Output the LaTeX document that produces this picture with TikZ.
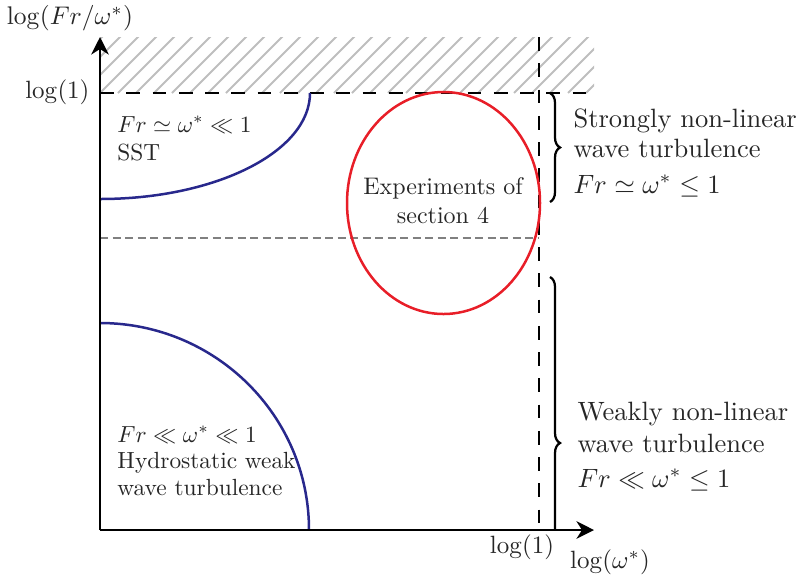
\documentclass[tikz,border=0pt]{standalone}
\usetikzlibrary{arrows.meta,decorations.pathreplacing}
\definecolor{curveblue}{RGB}{40,40,140}
\definecolor{expred}{RGB}{232,30,40}
\definecolor{hatchgray}{RGB}{190,190,190}
\begin{document}
\begin{tikzpicture}[x=0.4pt,y=0.4pt,
  axisline/.style={line width=1.1pt,-{Stealth[length=7pt,width=7pt,inset=2.2pt]}},
  guide/.style={line width=0.8pt,dash pattern=on 5.5pt off 5pt},
  lightguide/.style={line width=0.6pt,gray,dash pattern=on 3.2pt off 1.8pt},
  regioncurve/.style={line width=1pt,curveblue},
  bracestyle/.style={line width=0.9pt,decorate,decoration={brace,amplitude=4pt}},
  lbl/.style={inner sep=0pt,text=black!85},
  smalltxt/.style={lbl,scale=0.935},
  smallmath/.style={lbl,scale=0.93},
  bigtxt/.style={lbl,scale=1.06}]
\useasboundingbox (0,0) rectangle (797,-582);
% named points
\coordinate (O) at (100,-530);
\coordinate (Xend) at (594,-530);
\coordinate (Yend) at (100,-37);
\coordinate (Ytop1) at (100,-93);
\coordinate (Xtop1) at (594,-93);
\coordinate (Vtop) at (539,-37);
\coordinate (Vbot) at (539,-530);
\coordinate (Gl) at (100,-238);
\coordinate (Gr) at (539,-238);
% hatched region
\begin{scope}
  \clip (100,-37) rectangle (594,-93);
  \foreach \i in {-4,...,30}
    \draw[hatchgray,line width=0.8pt] (100+\i*18,-93) -- ++(60,60);
\end{scope}
% guide lines
\draw[guide] (Ytop1) -- (Xtop1);
\draw[guide] (Vtop) -- (Vbot);
\draw[lightguide] (Gl) -- (Gr);
% curves
\draw[regioncurve] (100,-199) arc[start angle=270,end angle=360,x radius=210,y radius=106];
\draw[regioncurve] (100,-323) arc[start angle=90,end angle=0,x radius=209,y radius=207];
% experiments ellipse
\draw[expred,line width=1pt] (443.5,-203) ellipse [x radius=96.5, y radius=111];
\node[lbl,align=center,scale=0.96] (exp) at (443,-201) {Experiments of\\section 4};
% axes
\draw[axisline] (O) -- (Xend);
\draw[axisline] (O) -- (Yend);
% axis labels
\node[lbl,scale=1.02] (ylab) at (70,-18) {$\log(Fr/\omega^*)$};
\node[lbl,anchor=east] (ylog) at (90,-92) {$\log(1)$};
\node[lbl] (xlog) at (522,-547) {$\log(1)$};
\node[lbl] (xlab) at (610,-562) {$\log(\omega^*)$};
% braces
\draw[bracestyle] (550,-93) -- (550,-202);
\begin{scope}
  \clip (530,-260) rectangle (600,-530);
  \draw[bracestyle] (550,-277) -- (550,-609);
\end{scope}
% region texts
\node[smallmath,anchor=base west] (sst1) at (117,-132) {$Fr\simeq\omega^*\ll 1$};
\node[smalltxt,anchor=base west] (sst2) at (117,-160) {SST};
\node[smallmath,anchor=base west] (hyd1) at (117,-442) {$Fr\ll\omega^*\ll 1$};
\node[smalltxt,anchor=base west] (hyd2) at (117,-468) {Hydrostatic weak};
\node[smalltxt,anchor=base west] (hyd3) at (117,-495) {wave turbulence};
\node[bigtxt,anchor=base west] (str1) at (573,-127) {Strongly non-linear};
\node[bigtxt,anchor=base west] (str2) at (573,-157) {wave turbulence};
\node[bigtxt,anchor=base west] (str3) at (573,-193) {$Fr\simeq\omega^*\leq 1$};
\node[bigtxt,anchor=base west] (weak1) at (577,-420) {Weakly non-linear};
\node[bigtxt,anchor=base west] (weak2) at (577,-452) {wave turbulence};
\node[bigtxt,anchor=base west] (weak3) at (577,-487) {$Fr\ll\omega^*\leq 1$};
\end{tikzpicture}
\end{document}
